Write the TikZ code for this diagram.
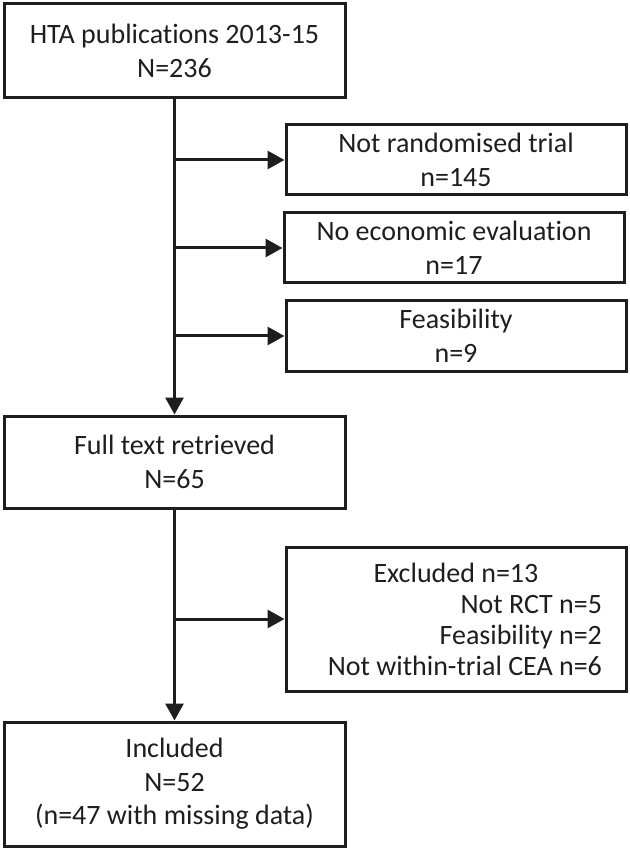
\documentclass[tikz,border=0pt]{standalone}
\usepackage{fontspec}
\setmainfont{Carlito}[Ligatures={NoCommon}]
\usetikzlibrary{arrows.meta}
\definecolor{ink}{HTML}{1E1E1E}
\begin{document}
\begin{tikzpicture}[x=0.5pt,y=0.5pt,
    box/.style={draw=ink,line width=1.5pt,text=ink,align=center,inner sep=0pt,
      font=\fontsize{14pt}{17pt}\selectfont},
    mainbox/.style={box,minimum width=170.5pt},
    sidebox/.style={box,minimum width=170pt,minimum height=35pt},
    flow/.style={draw=ink,line width=1.5pt,-{Triangle[length=8.5pt,width=9pt]}}]
  \useasboundingbox (0,0) rectangle (630,-849);
  \node [mainbox,minimum height=47pt] (hta) at (174.5,-51) {HTA publications 2013-15\\N=236};
  \node [sidebox] (nrt) at (456,-160) {Not randomised trial\\n=145};
  \node [sidebox] (nee) at (454,-248) {No economic evaluation\\n=17};
  \node [sidebox] (fea) at (456,-336) {Feasibility\\n=9};
  \node [mainbox,minimum height=46pt] (ftr) at (174.5,-462) {Full text retrieved\\N=65};
  \node [box,minimum width=170pt,minimum height=72pt,text width=146pt,align=flush right,
    font=\fontsize{14pt}{15.5pt}\selectfont] (exc) at (456,-619)
    {\makebox[146pt]{Excluded n=13}\\Not RCT n=5\\Feasibility n=2\\Not within-trial CEA n=6};
  \node [mainbox,minimum height=62pt,font=\fontsize{14pt}{16.75pt}\selectfont] (inc) at (174.5,-784)
    {Included\\N=52\\(n=47 with missing data)};
  \draw [flow] (hta) -- (ftr);
  \draw [flow] (hta.south |- nrt.west) -- (nrt.west);
  \draw [flow] (hta.south |- nee.west) -- (nee.west);
  \draw [flow] (hta.south |- fea.west) -- (fea.west);
  \draw [flow] (ftr) -- (inc);
  \draw [flow] (ftr.south |- exc.west) -- (exc.west);
\end{tikzpicture}
\end{document}
